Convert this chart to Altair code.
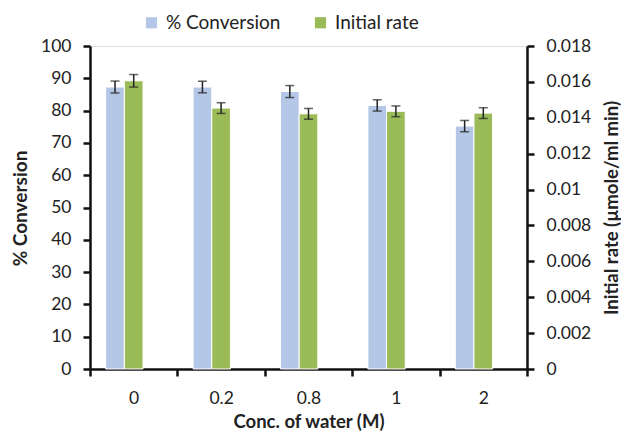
import altair as alt
import pandas as pd

cats = ["0", "0.2", "0.8", "1", "2"]
conv = [87.3, 87.3, 85.9, 81.6, 75.2]
conv_err = [1.85, 1.8, 1.85, 1.75, 1.75]
rate = [0.01606, 0.01454, 0.01422, 0.01436, 0.01426]
rate_err = [0.00035, 0.0003, 0.0003, 0.0003, 0.0003]
series = ["% Conversion", "Initial rate"]
colors = ["#B4C7E7", "#9BBB59"]

df_c = pd.DataFrame({"cat": cats, "val": conv, "lo": [v - e for v, e in zip(conv, conv_err)],
                     "hi": [v + e for v, e in zip(conv, conv_err)], "series": series[0]})
df_r = pd.DataFrame({"cat": cats, "val": rate, "lo": [v - e for v, e in zip(rate, rate_err)],
                     "hi": [v + e for v, e in zip(rate, rate_err)], "series": series[1]})

FONT = "Lato"
LS = 17.5
TS = 19

x_enc = alt.X("cat:N", sort=cats, title="Conc. of water (M)",
              scale=alt.Scale(paddingInner=0, paddingOuter=0),
              axis=alt.Axis(labelAngle=0, tickBand="extent", domainColor="#111", domainWidth=2.5,
                            tickColor="#111", tickWidth=2.5, tickSize=7, labelPadding=13,
                            labelFontSize=LS, titleFontSize=18.5, titleFontWeight="bold",
                            labelOverlap=False, titleX=218.5, titleY=58, titleBaseline="alphabetic"))
xo = alt.XOffset("series:N", scale=alt.Scale(domain=series + ["blank"], paddingInner=0, paddingOuter=0.84))
col = alt.Color("series:N", scale=alt.Scale(domain=series, range=colors),
                legend=alt.Legend(title=None, orient="none", legendX=52, legendY=-33, direction="horizontal",
                                  symbolType="square", symbolSize=125, symbolStrokeWidth=0,
                                  labelFontSize=19, columnPadding=30, labelLimit=250, labelOffset=5))


def mk_axis(title, values, orient, tx, ty, expr=None, tsize=TS):
    kw = dict(title=title, values=values, orient=orient, grid=False,
              domainColor="#111", domainWidth=2.5, tickColor="#111", tickWidth=2.5, tickSize=7,
              labelFontSize=LS, titleFontSize=tsize, titleFontWeight="bold",
              labelPadding=12, labelOverlap=False, labelFlush=False,
              titleAngle=270, titleX=tx, titleY=ty, titleBaseline="middle", titleAlign="center")
    if expr:
        kw["labelExpr"] = expr
    return alt.Axis(**kw)


def layer(df, yscale, yaxis):
    base = alt.Chart(df)
    bars = base.mark_bar(stroke="white", strokeWidth=1).encode(
        x=x_enc, xOffset=xo, y=alt.Y("val:Q", scale=yscale, axis=yaxis), color=col)
    rule = base.mark_rule(color="#222", strokeWidth=1.5).encode(
        x=x_enc, xOffset=xo, y=alt.Y("lo:Q", scale=yscale, axis=yaxis), y2="hi:Q")
    cap_lo = base.mark_tick(color="#222", thickness=1.5, size=9).encode(
        x=x_enc, xOffset=xo, y=alt.Y("lo:Q", scale=yscale, axis=yaxis))
    cap_hi = base.mark_tick(color="#222", thickness=1.5, size=9).encode(
        x=x_enc, xOffset=xo, y=alt.Y("hi:Q", scale=yscale, axis=yaxis))
    return alt.layer(bars, rule, cap_lo, cap_hi)


left_axis = mk_axis("% Conversion", list(range(0, 101, 10)), "left", -70, 162)
right_axis = mk_axis("Initial rate (µmole/ml min)",
                     [0, 0.002, 0.004, 0.006, 0.008, 0.01, 0.012, 0.014, 0.016, 0.018],
                     "right", 84, 161.5, "format(datum.value, '~g')", 18.5)

A = layer(df_c, alt.Scale(domain=[0, 100], nice=False), left_axis)
B = layer(df_r, alt.Scale(domain=[0, 0.018], nice=False), right_axis)

chart = alt.layer(A, B).resolve_scale(y="independent").properties(
    width=437, height=323, autosize=alt.AutoSizeParams(type="none"),
    padding={"left": 82, "top": 38, "right": 94, "bottom": 62}
).configure_view(stroke=None).configure(font=FONT).configure_axis(
    labelColor="#222", titleColor="#222", labelFont=FONT, titleFont=FONT
).configure_legend(labelFont=FONT, labelColor="#222")

chart.save("out.html", embed_options={"renderer": "svg", "actions": False})
